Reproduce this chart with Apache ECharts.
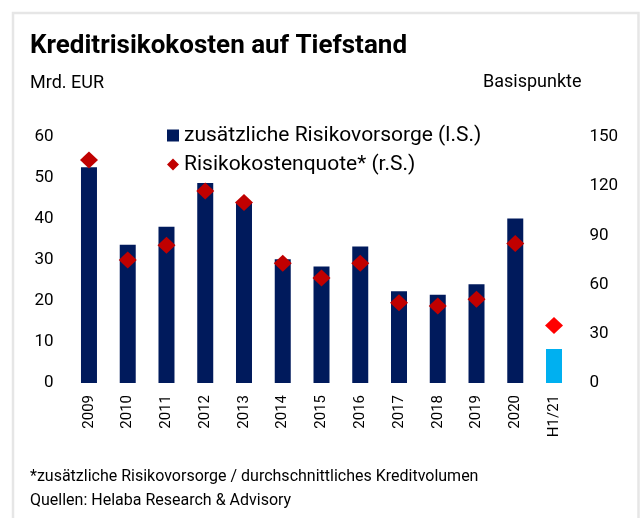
<!DOCTYPE html>
<html>
<head>
<meta charset="utf-8">
<script src="https://cdn.jsdelivr.net/npm/echarts@6/dist/echarts.min.js"></script>
<style>
html,body{margin:0;padding:0;background:#fff;}
#chart{width:641px;height:518px;}
</style>
</head>
<body>
<div id="chart"></div>
<script>
const categories = ['2009','2010','2011','2012','2013','2014','2015','2016','2017','2018','2019','2020','H1/21'];
const provisions = [52.6, 33.7, 38.1, 48.8, 44.0, 30.2, 28.4, 33.3, 22.4, 21.5, 24.1, 40.1, 8.3];
const costRatio = [136, 75, 84, 117, 110, 73, 64, 73, 49, 47, 51, 85, 35];
const leftTicks = [0, 10, 20, 30, 40, 50, 60];
const rightTicks = [0, 30, 60, 90, 120, 150];

const FONT = 'Roboto';
const NAVY = '#001A5C';
const CYAN = '#00B0F0';
const DARKRED = '#C00000';
const RED = '#FF0000';
const last = categories.length - 1;

const chart = echarts.init(document.getElementById('chart'), null, {renderer:'canvas'});
chart.setOption({
  animation: false,
  backgroundColor: '#fff',
  textStyle: {fontFamily: FONT, color: '#000'},
  graphic: [
    {type:'rect', shape:{x:13, y:13, width:625.5, height:600}, style:{fill:'none', stroke:'#E6E6E6', lineWidth:2.5}, silent:true},
    {type:'text', x:30, y:46, style:{text:'Kreditrisikokosten auf Tiefstand', font:'bold 26px Roboto', fill:'#000', verticalAlign:'middle'}},
    {type:'text', x:30, y:83, style:{text:'Mrd. EUR', font:'18px Roboto', fill:'#000', verticalAlign:'middle'}},
    {type:'text', x:483, y:82, style:{text:'Basispunkte', font:'18px Roboto', fill:'#000', verticalAlign:'middle'}},
    {type:'text', x:30, y:477, style:{text:'*zusätzliche Risikovorsorge / durchschnittliches Kreditvolumen', font:'16px Roboto', fill:'#000', verticalAlign:'middle'}},
    {type:'text', x:30, y:501, style:{text:'Quellen: Helaba Research & Advisory', font:'16px Roboto', fill:'#000', verticalAlign:'middle'}}
  ],
  legend: {
    orient: 'vertical',
    left: 162,
    top: 120,
    itemWidth: 12,
    itemHeight: 12,
    itemGap: 8,
    textStyle: {fontFamily: FONT, fontSize: 21, color: '#000'},
    data: [
      {name: 'zusätzliche Risikovorsorge (l.S.)', icon: 'rect'},
      {name: 'Risikokostenquote* (r.S.)', icon: 'diamond'}
    ]
  },
  grid: {left: 69.6, right: 67.6, top: 137, bottom: 135, containLabel: false},
  xAxis: {
    type: 'category',
    data: categories,
    boundaryGap: true,
    axisLine: {show: false},
    axisTick: {show: false},
    axisLabel: {rotate: 90, interval: 0, margin: 12, fontFamily: FONT, fontSize: 15, color: '#000'}
  },
  yAxis: [
    {type:'value', min: leftTicks[0], max: leftTicks[leftTicks.length-1], interval: 10,
     splitLine:{show:false}, axisLine:{show:false}, axisTick:{show:false},
     axisLabel:{margin: 16, fontFamily: FONT, fontSize: 17, color:'#000'}},
    {type:'value', min: rightTicks[0], max: rightTicks[rightTicks.length-1], interval: 30, position:'right',
     splitLine:{show:false}, axisLine:{show:false}, axisTick:{show:false},
     axisLabel:{margin: 16, fontFamily: FONT, fontSize: 17, color:'#000'}}
  ],
  series: [
    {
      name: 'zusätzliche Risikovorsorge (l.S.)',
      type: 'bar',
      yAxisIndex: 0,
      barWidth: 16,
      itemStyle: {color: NAVY},
      data: provisions.map((v, i) => ({value: v, itemStyle: {color: i === last ? CYAN : NAVY}})),
      z: 2
    },
    {
      name: 'Risikokostenquote* (r.S.)',
      type: 'scatter',
      yAxisIndex: 1,
      symbol: 'diamond',
      symbolSize: [18, 17],
      itemStyle: {color: DARKRED, opacity: 1},
      data: costRatio.map((v, i) => ({value: v, itemStyle: {color: i === last ? RED : DARKRED, opacity: 1}})),
      z: 3
    }
  ]
});
</script>
</body>
</html>
